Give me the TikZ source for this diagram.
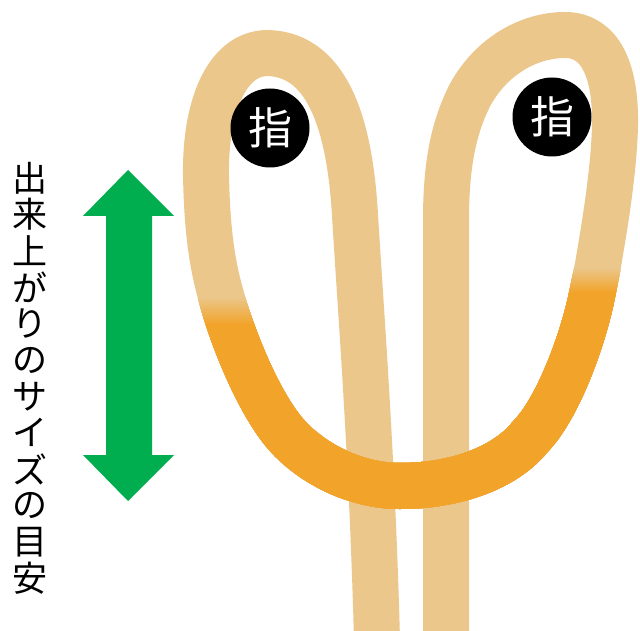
\documentclass[tikz,border=0pt]{standalone}
\usepackage{fontspec}
\newfontfamily\jpfont{Noto Sans CJK JP}
\definecolor{ropetan}{HTML}{EBC78C}
\definecolor{ropeorange}{HTML}{F2A42A}
\definecolor{arrowgreen}{HTML}{00AE50}
\tikzset{
  rope/.style={line width=46pt, line cap=butt, line join=round},
  finger/.style={circle, fill=black, text=white, minimum size=79pt, inner sep=0pt,
    font=\jpfont\fontsize{44}{44}\selectfont},
  vlabel/.style={inner sep=0pt, font=\jpfont\fontsize{35}{35}\selectfont},
}
\begin{document}
\begin{tikzpicture}[x=1pt,y=-1pt]
\useasboundingbox (0,0) rectangle (640,631);
\fill[white] (0,0) rectangle (640,631);

% the whole cord: left strand up, left loop, bottom U, right loop, right strand down
\draw[rope, ropetan] (377,640) .. controls (372,450) and (360,300) .. (355,215)
  .. controls (350,130) and (330,55) .. (268,53)
  .. controls (225,53) and (205,110) .. (206,175)
  .. controls (207,225) and (211,259) .. (220,292)
  .. controls (232,338) and (258.4,401.3) .. (284,432)
  .. controls (309.6,462.8) and (355,486) .. (400,486)
  .. controls (455,486) and (505,468) .. (530,437)
  .. controls (558,408.6) and (583.2,339.1) .. (592,295)
  -- (598,265)
  .. controls (602,241) and (614,175) .. (615,125)
  .. controls (616,70) and (600,35) .. (565,35)
  .. controls (530,35) and (492,55) .. (470,95)
  .. controls (455,125) and (446,160) .. (446,220)
  -- (446,640);

% the bottom U in orange, blended into the tan arms in thin bands
\foreach \i in {0,...,14} {
  \pgfmathsetmacro\p{100*\i/14}
  \pgfmathsetmacro\yl{296+\i*28/14}
  \pgfmathsetmacro\yr{267+\i*25/14}
  \begin{scope}
    \clip (0,\yl) -- (400,\yl) -- (400,\yr) -- (640,\yr) -- (640,640) -- (0,640) -- cycle;
    \draw[rope, color=ropeorange!\p!ropetan] (220,292)
      .. controls (232,338) and (258.4,401.3) .. (284,432)
      .. controls (309.6,462.8) and (355,486) .. (400,486)
      .. controls (455,486) and (505,468) .. (530,437)
      .. controls (558,408.6) and (583.2,339.1) .. (592,295)
      -- (598,265);
  \end{scope}
}

% fingers
\node[finger] (fingerL) at (270,128) {指};
\node[finger] (fingerR) at (552,117) {指};

% size arrow
\fill[arrowgreen] (128,170) -- (174,216) -- (152,216) -- (152,455) -- (174,455)
  -- (128,501) -- (83,455) -- (106,455) -- (106,216) -- (83,216) -- cycle;

% vertical caption
\foreach \c [count=\i] in {出,来,上,が,り,の,サ,イ,ズ,の,目,安} {
  \node[vlabel] (cap\i) at (30,{178+36.4*(\i-1)}) {\c};
}
\end{tikzpicture}
\end{document}
